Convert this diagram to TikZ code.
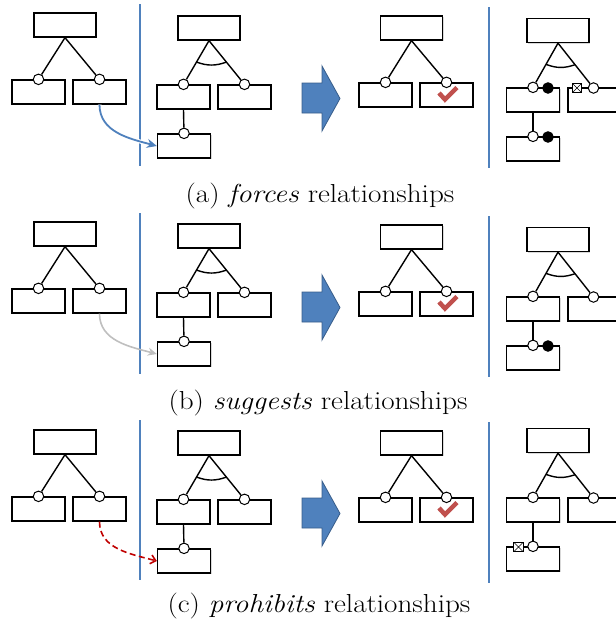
\documentclass[tikz,border=0pt]{standalone}
\usepackage{graphicx}
\usetikzlibrary{shadows,arrows.meta,calc}
\definecolor{oblue}{HTML}{4F81BD}
\definecolor{obluedark}{HTML}{385D8A}
\definecolor{ored}{HTML}{C0504D}
\definecolor{dred}{HTML}{C00000}
\definecolor{sgray}{HTML}{BFBFBF}
\tikzset{
  fbox/.style={draw=black, fill=white, line width=1.3pt, minimum width=53pt, minimum height=24pt, inner sep=0pt,
    drop shadow={shadow xshift=1.3pt, shadow yshift=-1.3pt, opacity=0.3}},
  topbox/.style={fbox, minimum width=62pt},
  opt/.style={circle, draw=black, fill=white, line width=1pt, minimum size=10.5pt, inner sep=0pt},
  sel/.style={circle, draw=black, fill=black, line width=1pt, minimum size=10.5pt, inner sep=0pt},
  xbox/.style={rectangle, draw=black, fill=white, line width=1pt, minimum size=9.5pt, inner sep=0pt,
    path picture={\draw[line width=0.6pt] (path picture bounding box.south west) -- (path picture bounding box.north east)
      (path picture bounding box.north west) -- (path picture bounding box.south east);}},
  tedge/.style={line width=1.4pt},
  grouparc/.style={line width=1.4pt},
  sepline/.style={draw=oblue, line width=2.5pt},
  blockarrow/.style={fill=oblue, draw=obluedark, line width=0.8pt},
  checkmark/.style={draw=ored, line width=4.5pt, line join=miter, line cap=butt},
  forcesarrow/.style={draw=oblue, line width=1.8pt, -{Stealth[length=10pt,width=9pt]},
    preaction={draw=white, line width=4pt, -{Stealth[length=12pt,width=12pt]}}},
  suggestsarrow/.style={draw=sgray, line width=1.6pt, -{Stealth[length=9pt,width=8pt]}},
  prohibitsarrow/.style={draw=dred, line width=1.6pt, dash pattern=on 6pt off 3.5pt, -{Straight Barb[length=5pt,width=9pt]}},
  captext/.style={anchor=base, inner sep=0pt, font=\fontsize{26}{30}\selectfont}
}
% left diagram: plain feature tree
\newcommand{\dgone}[2]{%
  \begin{scope}[shift={(0,#2)}]
    \node[topbox] (#1t) at (65,25) {};
    \node[fbox] (#1l) at (38.5,92) {};
    \node[fbox] (#1r) at (99.5,92) {};
    \node[opt] (#1lc) at (#1l.north) {};
    \node[opt] (#1rc) at (#1r.north) {};
    \draw[tedge] (#1t.south) -- (#1lc);
    \draw[tedge] (#1t.south) -- (#1rc);
  \end{scope}}
% second diagram: alternative group with a sub-feature
\newcommand{\dgtwo}[2]{%
  \begin{scope}[shift={(0,#2)}]
    \node[topbox] (#1t) at (209,28) {};
    \node[fbox] (#1l) at (183.5,97) {};
    \node[fbox] (#1r) at (244.5,97) {};
    \node[fbox] (#1b) at (184,146) {};
    \node[opt] (#1lc) at (#1l.north) {};
    \node[opt] (#1rc) at (#1r.north) {};
    \node[opt] (#1bc) at (#1b.north) {};
    \draw[tedge] (#1t.south) -- (#1lc);
    \draw[tedge] (#1t.south) -- (#1rc);
    \draw[tedge] (#1l.south) -- (#1bc);
    \draw[grouparc] ($(#1t.south)!0.49!(#1lc.center)$) to[bend right=20] ($(#1t.south)!0.49!(#1rc.center)$);
  \end{scope}}
% third diagram: configuration with a selected feature
\newcommand{\dgthree}[2]{%
  \begin{scope}[shift={(0,#2)}]
    \node[topbox] (#1t) at (411.5,28) {};
    \node[fbox] (#1l) at (385.5,95) {};
    \node[fbox] (#1r) at (446.5,95) {};
    \node[opt] (#1lc) at (#1l.north) {};
    \node[opt] (#1rc) at (#1r.north) {};
    \draw[tedge] (#1t.south) -- (#1lc);
    \draw[tedge] (#1t.south) -- (#1rc);
    \draw[checkmark] (439,93) -- (445,99.5) -- (457,87.5);
  \end{scope}}
% block arrow
\newcommand{\rowdeco}[1]{%
  \begin{scope}[shift={(0,#1)}]
    \draw[blockarrow] (302,83) -- (322,83) -- (322,66) -- (340,98.5) -- (322,131) -- (322,113) -- (302,113) -- cycle;
  \end{scope}}
\begin{document}
\begin{tikzpicture}[x=1pt,y=-1pt]
  \useasboundingbox (0,0) rectangle (616,625);
  % separators
  \draw[sepline] (140,4) -- (140,166);
  \draw[sepline] (489,7) -- (489,168);
  \draw[sepline] (140,213) -- (140,374);
  \draw[sepline] (489,216) -- (489,377);
  \draw[sepline] (140,420) -- (140,580);
  \draw[sepline] (489,422) -- (489,583);
  % row (a)
  \dgone{aA}{0}
  \dgtwo{aB}{0}
  \rowdeco{0}
  \dgthree{aC}{0}
  \begin{scope}
    \node[topbox] (aEt) at (558,30.5) {};
    \node[fbox] (aEl) at (533,100) {};
    \node[fbox] (aEr) at (594.5,100) {};
    \node[fbox] (aEb) at (533,149) {};
    \node[opt] (aElc) at (aEl.north) {};
    \node[sel] (aEls) at (548,88) {};
    \node[opt] (aErc) at (593.5,88) {};
    \node[xbox] (aErx) at (577,88) {};
    \node[opt] (aEbc) at (aEb.north) {};
    \node[sel] (aEbs) at (548,137) {};
    \draw[tedge] (aEt.south) -- (aElc);
    \draw[tedge] (aEt.south) -- (aErc);
    \draw[tedge] (aEl.south) -- (aEbc);
    \draw[grouparc] ($(aEt.south)!0.48!(aElc.center)$) to[bend right=20] ($(aEt.south)!0.48!(aErc.center)$);
  \end{scope}
  \draw[forcesarrow] (aAr.south) to[out=-90,in=165] (aBb.west);
  \node[captext] (capa) at (320,202.5) {\scalebox{1.12}[1]{(a) \textit{forces} relationships}};
  % row (b)
  \dgone{bA}{209}
  \dgtwo{bB}{208}
  \rowdeco{209}
  \dgthree{bC}{209}
  \begin{scope}[shift={(0,209)}]
    \node[topbox] (bEt) at (558,30.5) {};
    \node[fbox] (bEl) at (533,100) {};
    \node[fbox] (bEr) at (594.5,100) {};
    \node[fbox] (bEb) at (533,149) {};
    \node[opt] (bElc) at (bEl.north) {};
    \node[opt] (bErc) at (593.5,88) {};
    \node[opt] (bEbc) at (bEb.north) {};
    \node[sel] (bEbs) at (548,137) {};
    \draw[tedge] (bEt.south) -- (bElc);
    \draw[tedge] (bEt.south) -- (bErc);
    \draw[tedge] (bEl.south) -- (bEbc);
    \draw[grouparc] ($(bEt.south)!0.48!(bElc.center)$) to[bend right=20] ($(bEt.south)!0.48!(bErc.center)$);
  \end{scope}
  \draw[suggestsarrow] (bAr.south) to[out=-90,in=165] (bBb.west);
  \node[captext] (capb) at (318,409.5) {\scalebox{1.12}[1]{(b) \textit{suggests} relationships}};
  % row (c)
  \dgone{cA}{417}
  \dgtwo{cB}{415}
  \rowdeco{415}
  \dgthree{cC}{415}
  \begin{scope}[shift={(0,410)}]
    \node[topbox] (cEt) at (558,30.5) {};
    \node[fbox] (cEl) at (533,100) {};
    \node[fbox] (cEr) at (594.5,100) {};
    \node[fbox] (cEb) at (533,149) {};
    \node[opt] (cElc) at (cEl.north) {};
    \node[opt] (cErc) at (593.5,88) {};
    \node[opt] (cEbc) at (cEb.north) {};
    \node[xbox] (cEbx) at (518.5,137) {};
    \draw[tedge] (cEt.south) -- (cElc);
    \draw[tedge] (cEt.south) -- (cErc);
    \draw[tedge] (cEl.south) -- (cEbc);
    \draw[grouparc] ($(cEt.south)!0.48!(cElc.center)$) to[bend right=20] ($(cEt.south)!0.48!(cErc.center)$);
  \end{scope}
  \draw[prohibitsarrow] (cAr.south) to[out=-90,in=165] (cBb.west);
  \node[captext] (capc) at (319,612.5) {\scalebox{1.12}[1]{(c) \textit{prohibits} relationships}};
\end{tikzpicture}
\end{document}
